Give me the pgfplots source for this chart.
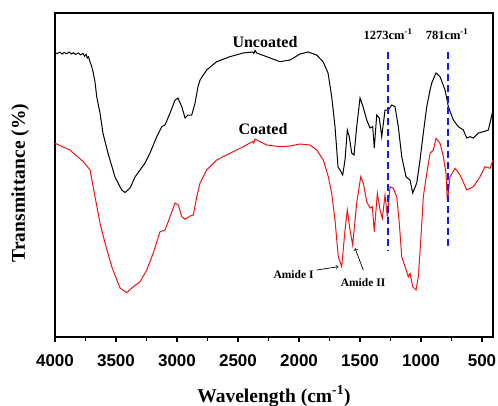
\documentclass[border=0pt]{standalone}
\usepackage{pgfplots}
\pgfplotsset{compat=1.18}
\usepackage{fontspec}
\setmainfont{Liberation Serif}
\setsansfont{Liberation Sans}
\definecolor{myblue}{RGB}{25,25,235}
\definecolor{myred}{RGB}{240,20,20}
\begin{document}
\begin{tikzpicture}
\useasboundingbox (-55pt,-68pt) rectangle (443pt,337pt);
\begin{axis}[
  at={(0,0)}, anchor=south west,
  scale only axis, width=438pt, height=324pt,
  x dir=reverse, xmin=410, xmax=4000, ymin=0, ymax=324,
  xtick={500,1000,1500,2000,2500,3000,3500,4000},
  minor x tick num=1,
  ytick=\empty,
  xtick pos=bottom, tick align=outside,
  major tick length=5pt, minor tick length=4pt,
  every tick/.style={black, line width=1.3pt},
  axis line style={line width=1.6pt},
  /pgf/number format/1000 sep={},
  /pgf/number format/assume math mode=true,
  xticklabel style={font=\sffamily\bfseries\fontsize{17}{17}\selectfont, anchor=base, yshift=-24pt},
  xlabel={Wavelength (cm\textsuperscript{-1})},
  xlabel style={font=\bfseries\fontsize{19.5}{20}\selectfont, at={(rel axis cs:0.5,0)}, anchor=base, yshift=-65pt},
  ylabel={Transmittance (\%)},
  ylabel style={font=\bfseries\fontsize{19.5}{20}\selectfont, at={(rel axis cs:0,0.475)}, anchor=base, yshift=30pt},
  clip=true,
]
% Uncoated (black)
\addplot[black, line width=1pt] coordinates {
(4000,284.3) (3980,283.5) (3960,284.8) (3940,283) (3925,284.6) (3905,283.2) (3885,285) (3865,283) (3850,284.2) (3830,282.6) (3810,284) (3790,282.2) (3770,283.4) (3757,280.8) (3745,282.6) (3735,279) (3725,280.2)
(3713,275.3) (3700,271) (3686,264) (3672,255) (3658,240.3) (3631,224) (3607,204) (3566,184) (3508,160) (3453,147) (3426,144.5) (3385,149) (3344,160) (3303,167) (3262,174) (3221,184) (3166,200.3) (3125,210.3) (3098,212) (3057,224) (3016,237) (2992,239) (2961,230.3) (2934,219) (2910,222) (2879,222) (2852,234) (2828,250.3) (2811,257) (2757,267) (2675,275.3) (2566,280.3) (2459,284) (2380,285) (2370,283.5) (2360,286.5) (2347,284) (2265,280.3) (2156,275.3) (2074,277) (1992,283) (1926,285) (1855,282) (1803,275.3) (1762,264) (1732,240.3) (1705,210.3) (1680,170) (1664,167) (1642,162) (1623,177) (1604,207) (1588,200.3) (1568,184) (1549,182) (1527,210.3) (1500,239) (1475,230.3) (1445,217) (1418,209) (1396,210.3) (1383,189) (1363,222) (1342,219) (1322,200.3) (1295,227) (1268,227) (1240,232) (1213,230.3) (1186,210.3) (1158,180.3) (1123,160.3) (1090,157) (1068,144) (1035,154) (1008,177) (981,204) (953,230.3) (926,247) (912,254) (877,264) (844,260.3) (803,247) (776,230.3) (735,217) (694,210.3) (653,207) (626,199) (598,200.3) (571,199) (530,204) (489,205.3) (448,207) (410,227)
};
% Coated (red)
\addplot[myred, line width=1pt] coordinates {
(4000,193.7) (3877,187) (3768,175.3) (3713,167) (3672,140.3) (3631,114) (3590,94) (3535,70.3) (3467,49) (3412,44.3) (3358,50.3) (3303,55.3) (3248,67) (3194,84) (3139,105.3) (3098,107) (3057,120.3) (3016,134) (2989,132) (2961,120.3) (2934,117.7) (2893,121) (2866,122) (2838,140.3) (2811,154) (2757,167) (2675,177) (2566,183.7) (2457,190.3) (2380,195.5) (2370,194) (2360,198) (2347,197) (2265,192) (2156,190.3) (2074,191) (1992,193) (1910,192) (1855,187) (1801,177) (1760,160.3) (1732,143.7) (1705,117) (1678,80.3) (1650,70.3) (1623,107) (1604,127) (1582,107) (1560,92) (1527,134) (1494,160.3) (1473,153.7) (1445,135.3) (1418,129) (1399,130.3) (1383,105.3) (1358,143.7) (1336,127) (1317,118.7) (1295,142) (1276,120.3) (1254,150.3) (1227,148.7) (1199,140.3) (1178,113.7) (1158,80.3) (1131,70.3) (1104,60.3) (1090,63.7) (1068,50.3) (1041,47) (1022,60.3) (1002,97) (981,140.3) (953,163.7) (926,183.7) (899,187) (877,198.7) (844,193.7) (817,180.3) (795,163.7) (784,135.3) (762,160.3) (721,168.7) (680,162) (625,147) (571,150.3) (516,160.3) (475,170.3) (434,168.7) (410,177)
};
% reference lines
\addplot[myblue, line width=2.4pt, dash pattern=on 7pt off 4pt] coordinates {(1273,285.3) (1273,87)};
\addplot[myblue, line width=2.4pt, dash pattern=on 7pt off 4pt] coordinates {(781,285.3) (781,90)};
% labels
\node[font=\bfseries\fontsize{16}{16}\selectfont] at (axis cs:2279,295) {Uncoated};
\node[font=\bfseries\fontsize{16}{16}\selectfont] at (axis cs:2295,208) {Coated};
\node[font=\bfseries\fontsize{12.5}{13}\selectfont] at (axis cs:1270,303) {1273cm\textsuperscript{-1}};
\node[font=\bfseries\fontsize{12.5}{13}\selectfont] at (axis cs:787,303) {781cm\textsuperscript{-1}};
\node[font=\bfseries\fontsize{11.5}{12}\selectfont] at (axis cs:2045,62) {Amide I};
\node[font=\bfseries\fontsize{11.5}{12}\selectfont] at (axis cs:1475,54) {Amide II};
\draw[->, line width=0.7pt] (axis cs:1855,67) -- (axis cs:1678,70.3);
\draw[->, line width=0.7pt] (axis cs:1473,67) -- (axis cs:1541,88.7);
\end{axis}
\end{tikzpicture}
\end{document}
